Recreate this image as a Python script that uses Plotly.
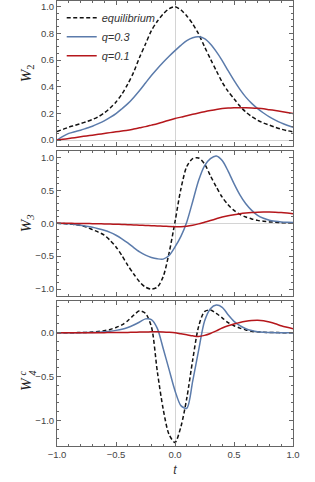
import plotly.graph_objects as go
from plotly.subplots import make_subplots

t = [-1.0, -0.95, -0.9, -0.85, -0.8, -0.75, -0.7, -0.65, -0.6, -0.55, -0.5,
     -0.45, -0.4, -0.35, -0.3, -0.25, -0.2, -0.15, -0.1, -0.05, 0.0,
     0.05, 0.1, 0.15, 0.2, 0.25, 0.3, 0.35, 0.4, 0.45, 0.5,
     0.55, 0.6, 0.65, 0.7, 0.75, 0.8, 0.85, 0.9, 0.95, 1.0]

# W2
w2_eq = [0.065, 0.08, 0.097, 0.11, 0.124, 0.138, 0.154, 0.175, 0.203, 0.24, 0.285,
         0.345, 0.42, 0.51, 0.62, 0.72, 0.82, 0.89, 0.945, 0.985, 1.0,
         0.975, 0.93, 0.87, 0.795, 0.70, 0.608, 0.52, 0.434, 0.365, 0.31,
         0.255, 0.21, 0.176, 0.149, 0.128, 0.112, 0.096, 0.082, 0.071, 0.062]
w2_q03 = [0.0, 0.028, 0.05, 0.063, 0.074, 0.089, 0.104, 0.123, 0.144, 0.17, 0.199,
          0.235, 0.273, 0.32, 0.372, 0.428, 0.484, 0.535, 0.583, 0.628, 0.67,
          0.71, 0.745, 0.767, 0.774, 0.76, 0.72, 0.663, 0.596, 0.52, 0.447,
          0.38, 0.322, 0.275, 0.236, 0.203, 0.174, 0.15, 0.129, 0.111, 0.095]
w2_q01 = [0.0, 0.006, 0.012, 0.018, 0.025, 0.031, 0.037, 0.043, 0.05, 0.056, 0.062,
          0.068, 0.074, 0.083, 0.092, 0.101, 0.112, 0.123, 0.136, 0.149, 0.162,
          0.172, 0.183, 0.193, 0.203, 0.213, 0.222, 0.23, 0.236, 0.24, 0.242,
          0.243, 0.243, 0.241, 0.238, 0.234, 0.228, 0.222, 0.215, 0.207, 0.199]

# W3
w3_eq = [0.0, -0.005, -0.012, -0.02, -0.035, -0.06, -0.098, -0.135, -0.18, -0.26, -0.36,
         -0.49, -0.64, -0.77, -0.89, -0.97, -1.0, -0.97, -0.81, -0.45, 0.02,
         0.52, 0.86, 0.98, 0.99, 0.9, 0.72, 0.55, 0.395, 0.28, 0.194,
         0.135, 0.093, 0.065, 0.043, 0.03, 0.02, 0.014, 0.009, 0.006, 0.004]
w3_q03 = [0.0, -0.004, -0.01, -0.018, -0.03, -0.045, -0.062, -0.083, -0.108, -0.14, -0.183,
          -0.237, -0.30, -0.37, -0.435, -0.485, -0.52, -0.54, -0.545, -0.49, -0.36,
          -0.2, 0.02, 0.33, 0.647, 0.87, 0.98, 1.02, 0.95, 0.79, 0.6,
          0.43, 0.295, 0.195, 0.12, 0.075, 0.045, 0.03, 0.02, 0.014, 0.01]
w3_q01 = [0.0, -0.001, -0.002, -0.003, -0.004, -0.005, -0.007, -0.009, -0.011, -0.013, -0.016,
          -0.019, -0.022, -0.026, -0.03, -0.034, -0.038, -0.042, -0.046, -0.05, -0.053,
          -0.052, -0.045, -0.03, -0.01, 0.015, 0.04, 0.067, 0.093, 0.112, 0.128,
          0.142, 0.153, 0.161, 0.166, 0.169, 0.17, 0.167, 0.162, 0.154, 0.144]

# W4c
w4_eq = [0.0, 0.0, 0.0, 0.001, 0.002, 0.004, 0.008, 0.014, 0.023, 0.038, 0.06,
         0.09, 0.137, 0.2, 0.25, 0.22, 0.07, -0.44, -0.87, -1.16, -1.25,
         -1.07, -0.745, -0.31, 0.07, 0.24, 0.26, 0.22, 0.17, 0.115, 0.08,
         0.053, 0.032, 0.018, 0.01, 0.005, 0.003, 0.002, 0.001, 0.0, 0.0]
w4_q03 = [0.0, 0.0, 0.0, 0.0, 0.001, 0.002, 0.003, 0.005, 0.01, 0.017, 0.027,
          0.04, 0.06, 0.088, 0.122, 0.158, 0.15, 0.05, -0.18, -0.42, -0.66,
          -0.83, -0.86, -0.55, -0.2, 0.13, 0.274, 0.315, 0.29, 0.205, 0.13,
          0.08, 0.046, 0.025, 0.012, 0.006, 0.003, 0.001, 0.0, 0.0, 0.0]
w4_q01 = [0.0, 0.0, 0.0, 0.0, 0.0, 0.0, 0.0, 0.001, 0.001, 0.002, 0.002,
          0.003, 0.004, 0.006, 0.008, 0.009, 0.01, 0.01, 0.008, 0.005, 0.0,
          -0.012, -0.023, -0.035, -0.042, -0.03, -0.008, 0.022, 0.054, 0.08, 0.1,
          0.117, 0.13, 0.139, 0.142, 0.137, 0.122, 0.103, 0.08, 0.062, 0.046]

series_names = ["<i>equilibrium</i>", "<i>q=0.3</i>", "<i>q=0.1</i>"]
colors = ["#111111", "#5b7bab", "#b5171c"]
dashes = ["4px,2.5px", "solid", "solid"]
panels = [(w2_eq, w2_q03, w2_q01), (w3_eq, w3_q03, w3_q01), (w4_eq, w4_q03, w4_q01)]
y_ranges = [[-0.042, 1.042], [-1.1, 1.1], [-1.29, 0.365]]
y_dticks = [0.2, 0.5, 0.5]
y_minor = [0.05, 0.1, 0.1]

fig = make_subplots(rows=3, cols=1, shared_xaxes=True)

for r, data in enumerate(panels, start=1):
    for k, ys in enumerate(data):
        fig.add_trace(go.Scatter(
            x=t, y=ys, mode="lines", name=series_names[k],
            line=dict(color=colors[k], width=1.5, dash=dashes[k], shape="spline", smoothing=0.8),
            showlegend=(r == 1)), row=r, col=1)

H = 482
top, bot = 1, 36
ph = H - top - bot
L, PW = 57, 236
def dom(y0, y1):
    return [(H - bot - y1) / ph, (H - bot - y0) / ph]
def px(x):
    return (x - L) / PW
def py(y):
    return (H - bot - y) / ph

domains = [dom(1, 145.7), dom(150.7, 295.7), dom(300.7, 446)]

frame = "#666666"
tickfont = dict(family="Liberation Sans, Arial, sans-serif", size=9.5, color="#444444")

for i in range(3):
    yname = "yaxis" if i == 0 else f"yaxis{i+1}"
    xname = "xaxis" if i == 0 else f"xaxis{i+1}"
    fig.layout[yname].update(
        domain=domains[i], range=y_ranges[i], dtick=y_dticks[i], tick0=0,
        ticks="inside", ticklen=4, tickcolor=frame, tickwidth=1,
        minor=dict(ticks="inside", ticklen=2, dtick=y_minor[i], tick0=0, tickcolor=frame),
        showline=True, linecolor=frame, linewidth=1, mirror="ticks",
        showgrid=False, zeroline=True, zerolinecolor="#d4d4d4", zerolinewidth=1,
        tickfont=tickfont, tickformat=".1f")
    fig.layout[xname].update(
        range=[-1, 1], dtick=0.5, tick0=0,
        ticks="inside", ticklen=4, tickcolor=frame, tickwidth=1,
        minor=dict(ticks="inside", ticklen=2, dtick=0.1, tick0=0, tickcolor=frame),
        showline=True, linecolor=frame, linewidth=1, mirror="ticks",
        showgrid=False, zeroline=True, zerolinecolor="#d4d4d4", zerolinewidth=1,
        tickfont=tickfont, tickformat=".1f", showticklabels=(i == 2))

fig.layout.xaxis3.title = dict(text="<i>t</i>", font=dict(family="Liberation Sans, Arial", size=12, color="#333"), standoff=6)

serif = "Liberation Serif, Times New Roman, serif"
def ylab(text, x, y, size):
    fig.add_annotation(
        text=text, xref="paper", yref="paper", x=px(x), y=py(y),
        xanchor="center", yanchor="middle", textangle=-90, showarrow=False,
        font=dict(family=serif, size=size, color="#222"))

ylab("<i>W</i><sub>2</sub>", 27, 73.3, 15)
ylab("<i>W</i><sub><i>3</i></sub>", 27, 223.2, 15)
ylab("<i>W</i>", 26, 384, 15)
ylab("<i>4</i>", 31.5, 373, 10)
ylab("<i>c</i>", 21.5, 373, 10)

fig.update_layout(
    width=315, height=482,
    margin=dict(l=L, r=22, t=top, b=bot),
    paper_bgcolor="white", plot_bgcolor="white",
    legend=dict(x=0.02, y=0.995, xanchor="left", yanchor="top",
                bgcolor="rgba(0,0,0,0)", font=dict(family="Liberation Sans, Arial", size=11, color="#333"),
                tracegroupgap=0, itemwidth=30),
    showlegend=True,
)

fig.write_html("out.html", config={"displayModeBar": False},
               post_script="document.body.style.margin='0px';document.body.style.padding='0px';")
